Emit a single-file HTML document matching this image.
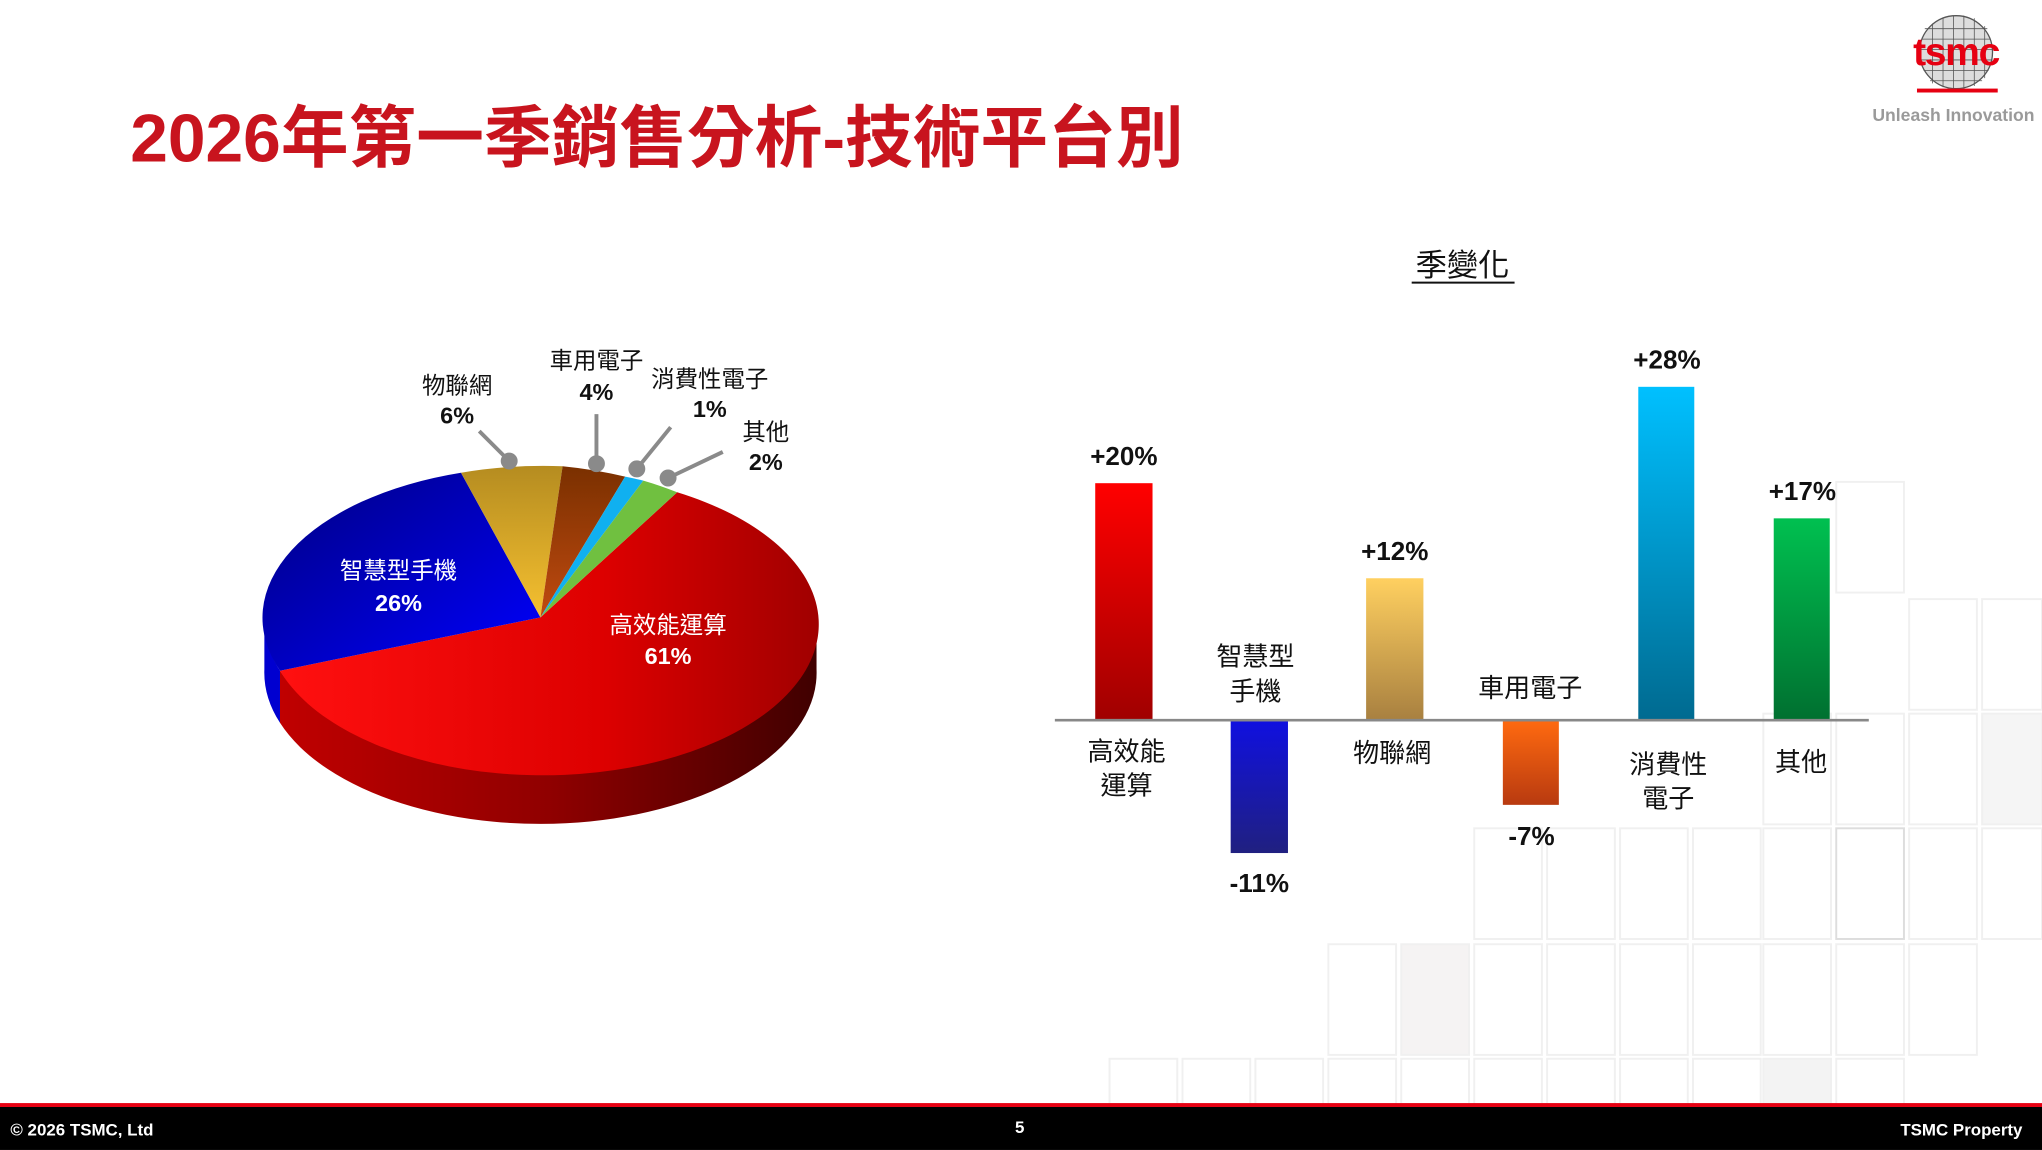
<!DOCTYPE html>
<html><head><meta charset="utf-8"><style>
html,body{margin:0;padding:0;background:#fff;}
svg{display:block;}
text{font-family:"Liberation Sans","Noto Sans CJK TC",sans-serif;}
</style></head><body>
<svg width="2042" height="1150" viewBox="0 0 1568 883" xmlns="http://www.w3.org/2000/svg">
<defs>
<linearGradient id="red" x1="0" y1="0" x2="1" y2="0"><stop offset="0" stop-color="#ff1010"/><stop offset="0.6" stop-color="#dd0000"/><stop offset="1" stop-color="#a00000"/></linearGradient>
<linearGradient id="redside" x1="0" y1="0" x2="1" y2="0"><stop offset="0" stop-color="#c00000"/><stop offset="0.5" stop-color="#900000"/><stop offset="1" stop-color="#400000"/></linearGradient>
<linearGradient id="blue" x1="0" y1="0" x2="1" y2="1"><stop offset="0" stop-color="#000080"/><stop offset="1" stop-color="#0000ff"/></linearGradient>
<linearGradient id="gold" x1="0" y1="0" x2="0" y2="1"><stop offset="0" stop-color="#b58c20"/><stop offset="1" stop-color="#f5c030"/></linearGradient>
<linearGradient id="brown" x1="0" y1="0" x2="0" y2="1"><stop offset="0" stop-color="#7a3000"/><stop offset="1" stop-color="#c04a10"/></linearGradient>
<linearGradient id="b1" x1="0" y1="0" x2="0" y2="1"><stop offset="0" stop-color="#ff0000"/><stop offset="1" stop-color="#a00000"/></linearGradient>
<linearGradient id="b2" x1="0" y1="0" x2="0" y2="1"><stop offset="0" stop-color="#1010e0"/><stop offset="1" stop-color="#202080"/></linearGradient>
<linearGradient id="b3" x1="0" y1="0" x2="0" y2="1"><stop offset="0" stop-color="#ffd060"/><stop offset="1" stop-color="#a88040"/></linearGradient>
<linearGradient id="b4" x1="0" y1="0" x2="0" y2="1"><stop offset="0" stop-color="#ff6a10"/><stop offset="1" stop-color="#b83a10"/></linearGradient>
<linearGradient id="b5" x1="0" y1="0" x2="0" y2="1"><stop offset="0" stop-color="#00c0ff"/><stop offset="1" stop-color="#006a90"/></linearGradient>
<linearGradient id="b6" x1="0" y1="0" x2="0" y2="1"><stop offset="0" stop-color="#00c050"/><stop offset="1" stop-color="#007030"/></linearGradient>
</defs>
<g fill="none" stroke="#f0f0f0" stroke-width="1.5">
<rect x="1410" y="370" width="52" height="85"/><rect x="1466" y="460" width="52" height="85"/><rect x="1522" y="460" width="46" height="85"/>
<rect x="1354" y="548" width="52" height="85"/><rect x="1410" y="548" width="52" height="85"/><rect x="1466" y="548" width="52" height="85"/><rect x="1522" y="548" width="46" height="85" fill="#f5f5f5"/>
<rect x="1132" y="636" width="52" height="85"/><rect x="1188" y="636" width="52" height="85"/><rect x="1244" y="636" width="52" height="85"/><rect x="1300" y="636" width="52" height="85"/><rect x="1354" y="636" width="52" height="85"/><rect x="1410" y="636" width="52" height="85" stroke="#ddd"/><rect x="1466" y="636" width="52" height="85"/><rect x="1522" y="636" width="46" height="85"/>
<rect x="1020" y="725" width="52" height="85"/><rect x="1076" y="725" width="52" height="85" fill="#f5f3f3"/><rect x="1132" y="725" width="52" height="85"/><rect x="1188" y="725" width="52" height="85"/><rect x="1244" y="725" width="52" height="85"/><rect x="1300" y="725" width="52" height="85"/><rect x="1354" y="725" width="52" height="85"/><rect x="1410" y="725" width="52" height="85"/><rect x="1466" y="725" width="52" height="85"/>
<rect x="852" y="813" width="52" height="35"/><rect x="908" y="813" width="52" height="35"/><rect x="964" y="813" width="52" height="35"/><rect x="1020" y="813" width="52" height="35"/><rect x="1076" y="813" width="52" height="35"/><rect x="1132" y="813" width="52" height="35"/><rect x="1188" y="813" width="52" height="35"/><rect x="1244" y="813" width="52" height="35"/><rect x="1300" y="813" width="52" height="35"/><rect x="1354" y="813" width="52" height="35" fill="#f3f3f3"/><rect x="1410" y="813" width="52" height="35"/>
</g>
<text x="100" y="124" font-size="52" font-weight="bold" fill="#c8141e">2026年第一季銷售分析-技術平台別</text>
<circle cx="1502" cy="40" r="28" fill="#ddd" stroke="#555" stroke-width="1"/>
<g stroke="#555" stroke-width="0.6">
<path d="M1478 22H1526M1476 30H1528M1475 38H1530M1475 46H1530M1477 54H1527M1482 62H1522M1484 18V64M1492 14V67M1500 12V68M1508 12V68M1516 14V66M1524 20V60"/></g>
<text x="1502" y="50" font-size="30" font-weight="bold" fill="#e60012" text-anchor="middle" font-family="Liberation Serif,serif" letter-spacing="-1">tsmc</text>
<rect x="1472" y="68" width="62" height="3" fill="#e60012"/>
<text x="1500" y="93" font-size="13.5" font-weight="bold" fill="#9a9a9a" text-anchor="middle">Unleash Innovation</text>
<path d="M627,474 A212,116 0 0 1 215,515 L215,555 A212,116 0 0 0 627,514 Z" fill="url(#redside)"/>
<path d="M203,474 A212,116 0 0 0 215,515 L215,555 A212,116 0 0 1 203,514 Z" fill="#0000d0"/>
<path d="M415,474 L520,378 A212,116 0 1 1 215,515 Z" fill="url(#red)"/>
<path d="M415,474 L215,515 A212,116 0 0 1 354,363 Z" fill="url(#blue)"/>
<path d="M415,474 L354,363 A212,116 0 0 1 432,358 Z" fill="url(#gold)"/>
<path d="M415,474 L432,358 A212,116 0 0 1 480,366 Z" fill="url(#brown)"/>
<path d="M415,474 L480,366 A212,116 0 0 1 494,369 Z" fill="#10b0f0"/>
<path d="M415,474 L494,369 A212,116 0 0 1 520,378 Z" fill="#70c040"/>
<g stroke="#8a8a8a" stroke-width="3" fill="#8a8a8a">
<line x1="368" y1="331" x2="391" y2="354"/><circle cx="391" cy="354" r="5"/>
<line x1="458" y1="318" x2="458" y2="356"/><circle cx="458" cy="356" r="5"/>
<line x1="515" y1="328" x2="489" y2="360"/><circle cx="489" cy="360" r="5"/>
<line x1="555" y1="347" x2="513" y2="367"/><circle cx="513" cy="367" r="5"/>
</g>
<g font-size="18" text-anchor="middle" fill="#111">
<text x="351" y="302">物聯網</text><text x="351" y="325" font-weight="bold">6%</text>
<text x="458" y="283">車用電子</text><text x="458" y="307" font-weight="bold">4%</text>
<text x="545" y="297">消費性電子</text><text x="545" y="320" font-weight="bold">1%</text>
<text x="588" y="338">其他</text><text x="588" y="361" font-weight="bold">2%</text>
</g>
<g font-size="18" text-anchor="middle" fill="#fff">
<text x="306" y="444">智慧型手機</text><text x="306" y="469" font-weight="bold">26%</text>
<text x="513" y="486">高效能運算</text><text x="513" y="510" font-weight="bold">61%</text>
</g>
<text x="1123" y="212" font-size="24" text-anchor="middle" fill="#111">季變化</text>
<line x1="1084" y1="217" x2="1163" y2="217" stroke="#111" stroke-width="1.5"/>
<rect x="841" y="371" width="44" height="182" fill="url(#b1)"/>
<rect x="945" y="553" width="44" height="102" fill="url(#b2)"/>
<rect x="1049" y="444" width="44" height="109" fill="url(#b3)"/>
<rect x="1154" y="553" width="43" height="65" fill="url(#b4)"/>
<rect x="1258" y="297" width="43" height="256" fill="url(#b5)"/>
<rect x="1362" y="398" width="43" height="155" fill="url(#b6)"/>
<line x1="810" y1="553" x2="1435" y2="553" stroke="#888" stroke-width="2"/>
<g font-size="20" text-anchor="middle" fill="#111" font-weight="bold">
<text x="863" y="357">+20%</text><text x="967" y="685">-11%</text><text x="1071" y="430">+12%</text>
<text x="1176" y="649">-7%</text><text x="1280" y="283">+28%</text><text x="1384" y="384">+17%</text>
</g>
<g font-size="20" text-anchor="middle" fill="#111">
<text x="865" y="584">高效能</text><text x="865" y="610">運算</text>
<text x="964" y="511">智慧型</text><text x="964" y="538">手機</text>
<text x="1069" y="585">物聯網</text>
<text x="1175" y="535">車用電子</text>
<text x="1281" y="594">消費性</text><text x="1281" y="620">電子</text>
<text x="1383" y="592">其他</text>
</g>
<rect x="0" y="847" width="1568" height="3" fill="#e60012"/>
<rect x="0" y="850" width="1568" height="33" fill="#000"/>
<text x="8" y="872" font-size="13" font-weight="bold" fill="#fff">© 2026 TSMC, Ltd</text>
<text x="783" y="870" font-size="13" font-weight="bold" fill="#fff" text-anchor="middle">5</text>
<text x="1553" y="872" font-size="13" font-weight="bold" fill="#fff" text-anchor="end">TSMC Property</text>
</svg>
</body></html>
